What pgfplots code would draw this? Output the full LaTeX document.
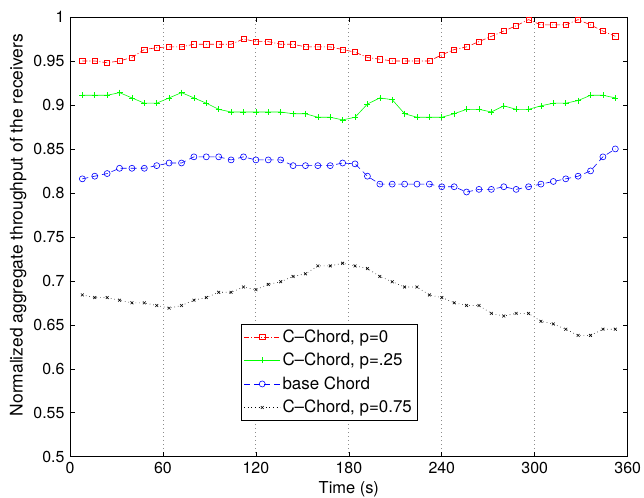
\documentclass[border=0pt]{standalone}
\usepackage{fontspec}
\setmainfont{TeX Gyre Heros}
\usepackage{pgfplots}
\pgfplotsset{compat=1.18}
\begin{document}
\fontsize{16}{19}\selectfont
\begin{tikzpicture}
\begin{axis}[
  scale only axis, width=558bp, height=440bp,
  xmin=0, xmax=360, ymin=0.5, ymax=1,
  xtick={0,60,...,360}, ytick={0.5,0.55,...,1.001},
  yticklabels={0.5,0.55,0.6,0.65,0.7,0.75,0.8,0.85,0.9,0.95,1},
  tick align=inside, major tick length=5bp,
  xmajorgrids, major grid style={dash pattern=on 0.8bp off 3.2bp, gray!90, line width=0.8bp},
  axis line style={line width=0.8bp},
  every tick/.style={black, line width=0.6bp},
  /pgf/number format/assume math mode=true,
  tick label style={font=\fontsize{16}{19}\selectfont},
  xlabel={Time (s)},
  ylabel={Normalized aggregate throughput of the receivers},
  xlabel style={at={(axis description cs:0.5,-0.073)}, anchor=center, font=\fontsize{16.5}{19}\selectfont},
  ylabel style={at={(axis description cs:-0.093,0.527)}, anchor=center, font=\fontsize{17.5}{20}\selectfont},
  legend style={at={(0.306,0.083)}, anchor=south west, draw=black, line width=0.6bp,
    font=\fontsize{17}{20}\selectfont, row sep=4.5bp, inner xsep=3bp, inner ysep=3bp,
    legend cell align=left},
  legend image code/.code={\draw[mark repeat=2,mark phase=2] plot coordinates {(0bp,0bp) (18bp,0bp) (36bp,0bp)};},
  every axis plot/.append style={line width=0.6bp},
]
\addplot[red, dash pattern=on 5bp off 2bp on 1bp off 2bp, mark=square, mark size=2.6bp, mark options={solid}] coordinates {
(8,0.950)(16,0.950)(24,0.948)(32,0.950)(40,0.954)(48,0.963)(56,0.965)(64,0.966)(72,0.966)(80,0.969)(88,0.969)(96,0.969)(104,0.969)(112,0.975)(120,0.972)(128,0.972)(136,0.969)(144,0.969)(152,0.966)(160,0.966)(168,0.966)(176,0.963)(184,0.960)(192,0.954)(200,0.952)(208,0.950)(216,0.950)(224,0.950)(232,0.950)(240,0.957)(248,0.963)(256,0.966)(264,0.972)(272,0.978)(280,0.984)(288,0.990)(296,0.997)(304,0.991)(312,0.991)(320,0.991)(328,0.997)(336,0.991)(344,0.984)(352,0.978)};
\addlegendentry{C\textendash Chord, p=0}
\addplot[green, solid, mark=+, mark size=3bp] coordinates {
(8,0.911)(16,0.911)(24,0.911)(32,0.914)(40,0.908)(48,0.902)(56,0.902)(64,0.908)(72,0.914)(80,0.908)(88,0.902)(96,0.895)(104,0.892)(112,0.892)(120,0.892)(128,0.892)(136,0.892)(144,0.890)(152,0.890)(160,0.886)(168,0.886)(176,0.883)(184,0.886)(192,0.901)(200,0.908)(208,0.906)(216,0.890)(224,0.886)(232,0.886)(240,0.886)(248,0.890)(256,0.895)(264,0.895)(272,0.892)(280,0.899)(288,0.895)(296,0.895)(304,0.899)(312,0.902)(320,0.902)(328,0.905)(336,0.911)(344,0.911)(352,0.908)};
\addlegendentry{C\textendash Chord, p=.25}
\addplot[blue, dash pattern=on 6bp off 4bp, mark=o, mark size=3bp, mark options={solid}] coordinates {
(8,0.816)(16,0.819)(24,0.822)(32,0.828)(40,0.828)(48,0.828)(56,0.831)(64,0.834)(72,0.834)(80,0.841)(88,0.841)(96,0.841)(104,0.8375)(112,0.841)(120,0.8375)(128,0.8375)(136,0.8375)(144,0.831)(152,0.831)(160,0.831)(168,0.831)(176,0.834)(184,0.833)(192,0.819)(200,0.810)(208,0.810)(216,0.810)(224,0.810)(232,0.810)(240,0.807)(248,0.807)(256,0.801)(264,0.804)(272,0.804)(280,0.807)(288,0.804)(296,0.807)(304,0.810)(312,0.813)(320,0.816)(328,0.819)(336,0.825)(344,0.841)(352,0.850)};
\addlegendentry{base Chord}
\addplot[black, dash pattern=on 0.6bp off 3bp, mark=x, mark size=2bp, mark options={solid}] coordinates {
(8,0.684)(16,0.681)(24,0.681)(32,0.678)(40,0.675)(48,0.675)(56,0.672)(64,0.669)(72,0.672)(80,0.678)(88,0.681)(96,0.687)(104,0.687)(112,0.693)(120,0.690)(128,0.696)(136,0.699)(144,0.705)(152,0.708)(160,0.717)(168,0.717)(176,0.720)(184,0.717)(192,0.714)(200,0.705)(208,0.699)(216,0.693)(224,0.693)(232,0.684)(240,0.681)(248,0.675)(256,0.672)(264,0.672)(272,0.663)(280,0.660)(288,0.663)(296,0.663)(304,0.654)(312,0.651)(320,0.645)(328,0.638)(336,0.638)(344,0.645)(352,0.645)};
\addlegendentry{C\textendash Chord, p=0.75}
\end{axis}
\pgfresetboundingbox
\useasboundingbox ([xshift=-70bp,yshift=-40.3bp]current axis.south west) rectangle ([xshift=16.3bp,yshift=17bp]current axis.north east);
\end{tikzpicture}
\end{document}
